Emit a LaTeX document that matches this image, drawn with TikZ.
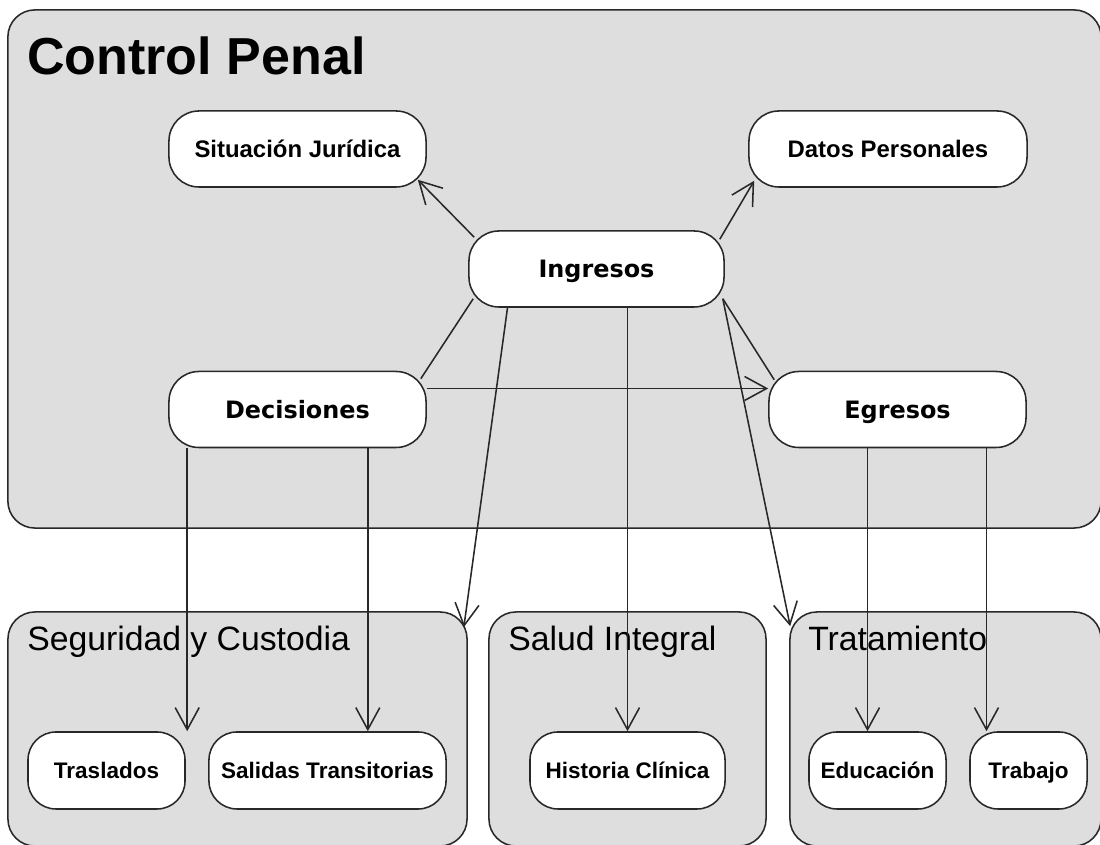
\documentclass[tikz,border=0pt]{standalone}
\usepackage[rgb]{xcolor}
\usepackage{fontspec}
\setmainfont{Liberation Sans}
\newfontfamily\dejavu{DejaVu Sans}
\usepackage{tikz}
\usetikzlibrary{arrows.meta,calc}

\definecolor{panelgray}{RGB}{222,222,222}
\definecolor{linegray}{RGB}{40,40,40}

\tikzset{
  panel/.style={draw=linegray, fill=panelgray, line width=1.1pt, rounded corners=0.675cm, inner sep=0pt},
  box/.style={draw=linegray, fill=white, line width=1.1pt, rounded corners=0.75cm, minimum height=1.9cm, inner sep=0pt, text height=13pt, text depth=0.8pt, font=\fontsize{17}{20}\selectfont\bfseries},
  hub/.style={box, font=\dejavu\fontsize{17}{20}\selectfont\bfseries},
  leaf/.style={box, minimum height=1.925cm, rounded corners=0.7cm, text height=12.3pt, text depth=0.8pt, font=\fontsize{16}{19}\selectfont\bfseries},
  panelname/.style={anchor=base west, inner sep=0pt, font=\fontsize{24}{28}\selectfont},
  link/.style={draw=linegray, line width=1.1pt},
  flow/.style={link, -{Straight Barb[length=0.55cm,width=0.6cm]}}
}

\begin{document}
\begin{tikzpicture}[x=0.025cm, y=0.025cm]

\useasboundingbox (0,0) rectangle (1100,845);

%% the big panel and the three lower ones
\path
(554.5,576) node[panel, minimum width=27.325cm, minimum height=12.95cm](control){}
(237.5,116) node[panel, minimum width=11.475cm, minimum height=5.85cm](seguridad){}
(627.5,116) node[panel, minimum width=6.925cm, minimum height=5.85cm](salud){}
(945.5,116) node[panel, minimum width=7.775cm, minimum height=5.85cm](tratamiento){};

\path
(27,770) node[anchor=base west, inner sep=0pt, font=\fontsize{37}{44}\selectfont\bfseries](controltitle){Control Penal}
(27,194) node[panelname](seguridadtitle){Seguridad y Custodia}
(508,194) node[panelname](saludtitle){Salud Integral}
(808,194) node[panelname](tratamientotitle){Tratamiento};

%% states inside Control Penal
\path
(297.5,696) node[box, minimum width=6.425cm](situacion){Situación Jurídica}
(888,696) node[box, minimum width=6.95cm](datos){Datos Personales}
(596.5,576) node[hub, minimum width=6.375cm](ingresos){Ingresos}
(297.5,435.5) node[hub, minimum width=6.425cm](decisiones){Decisiones}
(897.5,435.5) node[hub, minimum width=6.425cm](egresos){Egresos};

%% states of the lower panels
\path
(106.5,74.5) node[leaf, minimum width=3.925cm](traslados){Traslados}
(327.5,74.5) node[leaf, minimum width=5.925cm](salidas){Salidas Transitorias}
(627.5,74.5) node[leaf, minimum width=4.875cm](historia){Historia Clínica}
(877.5,74.5) node[leaf, minimum width=3.425cm](educacion){Educación}
(1028.5,74.5) node[leaf, minimum width=2.925cm](trabajo){Trabajo};

%% out of Ingresos
\draw[flow] ($(ingresos.north west)+(6,-7)$) -- ($(situacion.south east)+(-9,8)$);
\draw[flow] ($(ingresos.north east)+(-5,-9)$) -- ($(datos.south west)+(6,7)$);
\draw[link] ($(decisiones.north east)+(-6,-8)$) -- ($(ingresos.south west)+(5,9)$);
\draw[link] ($(ingresos.south east)+(-2,9)$) -- ($(egresos.north west)+(6,-9)$);
\draw[flow] ($(ingresos.south)+(-89,0)$) -- ($(seguridad.north east)+(-4,-16)$);
\draw[flow] (ingresos.south -| historia.north) -- (historia.north);
\draw[flow] ($(ingresos.south east)+(-2,9)$) -- ($(tratamiento.north west)+(1,-15)$);

%% Decisiones and Egresos
\draw[flow] ($(decisiones.east)+(0,21)$) -- ($(egresos.west)+(0,21)$);
\draw[flow] ($(decisiones.south west)+(19,0)$) coordinate (d1) -- (d1 |- traslados.north);
\draw[flow] ($(decisiones.south east)+(-59,0)$) coordinate (d2) -- (d2 |- salidas.north);
\draw[flow] ($(egresos.south)+(-30,0)$) coordinate (e1) -- (e1 |- educacion.north);
\draw[flow] ($(egresos.south)+(89,0)$) coordinate (e2) -- (e2 |- trabajo.north);

\end{tikzpicture}
\end{document}
